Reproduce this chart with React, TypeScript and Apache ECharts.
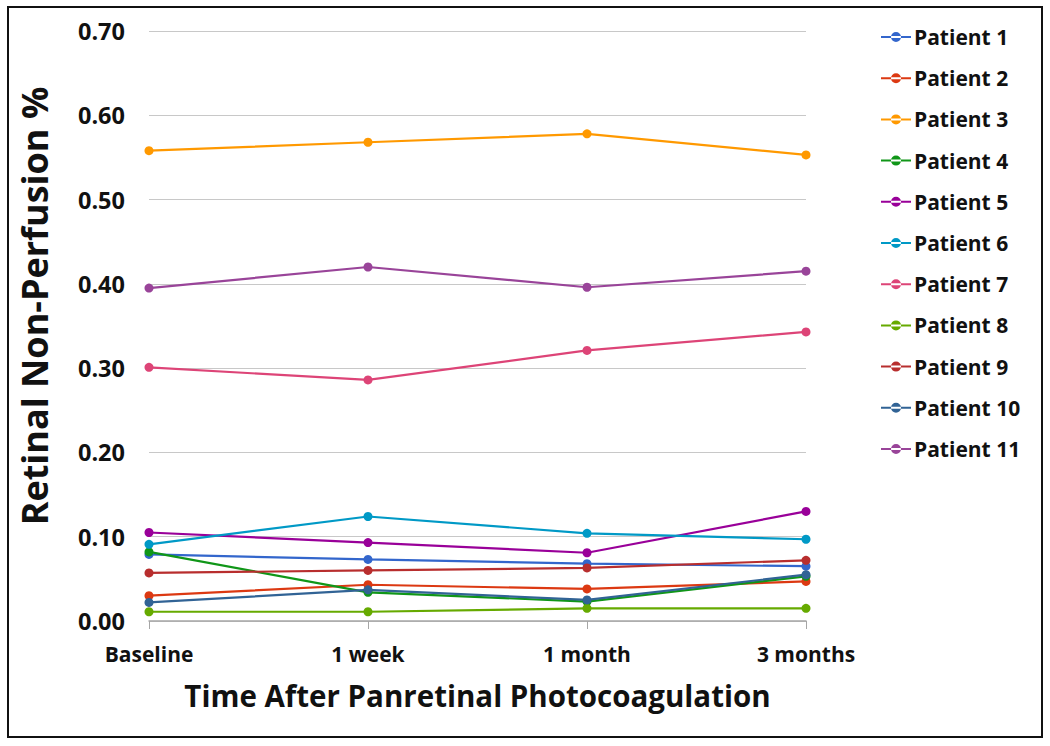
import React, { useEffect, useRef } from "react";
import * as echarts from "echarts";

const categories = ["Baseline", "1 week", "1 month", "3 months"];
const patientNames = [
  "Patient 1", "Patient 2", "Patient 3", "Patient 4", "Patient 5", "Patient 6",
  "Patient 7", "Patient 8", "Patient 9", "Patient 10", "Patient 11",
];
const patient1 = [0.079, 0.073, 0.068, 0.065];
const patient2 = [0.030, 0.043, 0.038, 0.047];
const patient3 = [0.558, 0.568, 0.578, 0.553];
const patient4 = [0.082, 0.034, 0.023, 0.053];
const patient5 = [0.105, 0.093, 0.081, 0.130];
const patient6 = [0.091, 0.124, 0.104, 0.097];
const patient7 = [0.301, 0.286, 0.321, 0.343];
const patient8 = [0.011, 0.011, 0.015, 0.015];
const patient9 = [0.057, 0.060, 0.063, 0.072];
const patient10 = [0.022, 0.037, 0.025, 0.055];
const patient11 = [0.395, 0.420, 0.396, 0.415];
const seriesValues = [
  patient1, patient2, patient3, patient4, patient5, patient6,
  patient7, patient8, patient9, patient10, patient11,
];
const colors = [
  "#3366cc", "#dc3912", "#ff9900", "#109618", "#990099", "#0099c6",
  "#dd4477", "#66aa00", "#b82e2e", "#316395", "#994499",
];
const yTitle = "Retinal Non-Perfusion %";
const xTitle = "Time After Panretinal Photocoagulation";

const FONT = "'Open Sans', 'Noto Sans', sans-serif";

export default function App() {
  const ref = useRef<HTMLDivElement>(null);
  useEffect(() => {
    if (!ref.current) return;
    const chart = echarts.init(ref.current, undefined, { renderer: "svg" });
    chart.setOption({
      animation: false,
      backgroundColor: "#ffffff",
      color: colors,
      graphic: [
        {
          type: "rect",
          shape: { x: 8, y: 7, width: 1034, height: 730 },
          style: { fill: "none", stroke: "#111", lineWidth: 2 },
          silent: true,
        },
        {
          type: "text",
          x: 34,
          y: 306,
          rotation: Math.PI / 2,
          silent: true,
          style: {
            text: yTitle,
            fontFamily: FONT,
            fontWeight: "bold",
            fontSize: 36,
            fill: "#111",
            align: "center",
            verticalAlign: "middle",
          },
        },
      ],
      grid: {
        left: 149,
        right: 244,
        top: 31,
        bottom: 125,
        containLabel: false,
        outerBoundsMode: "none",
      },
      legend: {
        orient: "vertical",
        left: 876,
        top: 21,
        itemGap: 19.2,
        itemWidth: 30,
        itemHeight: 22,
        icon: "path://M0,10 L30,10 L30,12 L0,12 Z M10,11 A5,5 0 1,0 20,11 A5,5 0 1,0 10,11 Z",
        textStyle: {
          fontFamily: FONT,
          fontWeight: "bold",
          fontSize: 21,
          lineHeight: 22,
          color: "#111",
          padding: [0, 0, 0, -2],
        },
        data: patientNames,
      },
      xAxis: {
        type: "category",
        data: categories,
        boundaryGap: false,
        axisLine: { lineStyle: { color: "#a6a6a6", width: 1.5 } },
        axisTick: { show: true, length: 8, lineStyle: { color: "#a6a6a6" } },
        axisLabel: { fontFamily: FONT, fontWeight: "bold", fontSize: 21, color: "#111", margin: 22 },
        name: xTitle,
        nameLocation: "middle",
        nameGap: 59,
        nameTextStyle: { fontFamily: FONT, fontWeight: "bold", fontSize: 29.5, color: "#111" },
      },
      yAxis: {
        type: "value",
        min: 0,
        max: 0.7,
        interval: 0.1,
        axisLine: { show: false },
        axisTick: { show: false },
        splitLine: { lineStyle: { color: "#c8c8c8", width: 1.2 } },
        axisLabel: {
          fontFamily: FONT,
          fontWeight: "bold",
          fontSize: 23.5,
          color: "#111",
          margin: 24,
          formatter: (v: number) => v.toFixed(2),
        },
      },
      series: seriesValues.map((vals, i) => ({
        name: patientNames[i],
        type: "line",
        data: vals,
        symbol: "circle",
        symbolSize: 9,
        lineStyle: { width: 2.2, color: colors[i] },
        itemStyle: { color: colors[i] },
      })),
    });
    return () => chart.dispose();
  }, []);
  return (
    <div
      ref={ref}
      style={{ position: "fixed", left: 0, top: 0, width: 1050, height: 746 }}
    />
  );
}
